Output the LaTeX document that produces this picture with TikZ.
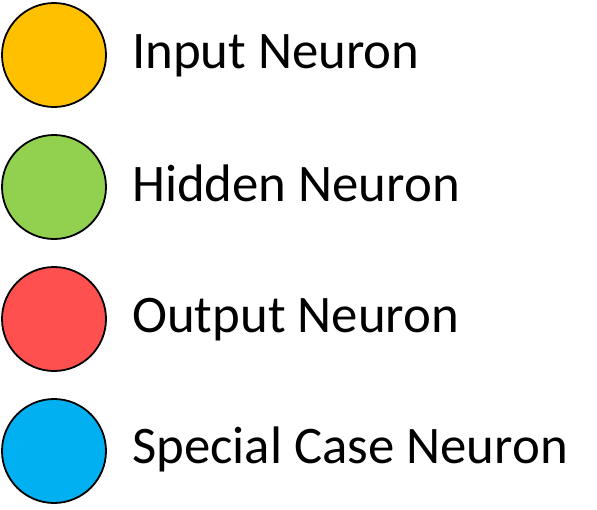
\documentclass[tikz,border=0pt]{standalone}
\usepackage{fontspec}
\setmainfont{Carlito}
\definecolor{cinput}{HTML}{FFC000}
\definecolor{chidden}{HTML}{92D050}
\definecolor{coutput}{HTML}{FF5050}
\definecolor{cspecial}{HTML}{00B0F0}
\begin{document}
\begin{tikzpicture}[x=1pt,y=-1pt,
  neuron/.style={circle, draw=black, line width=1.8pt, minimum size=104pt, inner sep=0pt},
  label/.style={anchor=base west, inner sep=0pt, font=\fontsize{52.8}{58}\selectfont}]
\useasboundingbox (0,0) rectangle (597,509);
\node[neuron, fill=cinput] (n1) at (54,55) {};
\node[neuron, fill=chidden] (n2) at (54,187) {};
\node[neuron, fill=coutput] (n3) at (54,319) {};
\node[neuron, fill=cspecial] (n4) at (54,451) {};
\node[label] (t1) at (132,68) {Input Neuron};
\node[label] (t2) at (132,201) {Hidden Neuron};
\node[label] (t3) at (132,332) {Output Neuron};
\node[label] (t4) at (132,463) {Special Case Neuron};
\end{tikzpicture}
\end{document}
